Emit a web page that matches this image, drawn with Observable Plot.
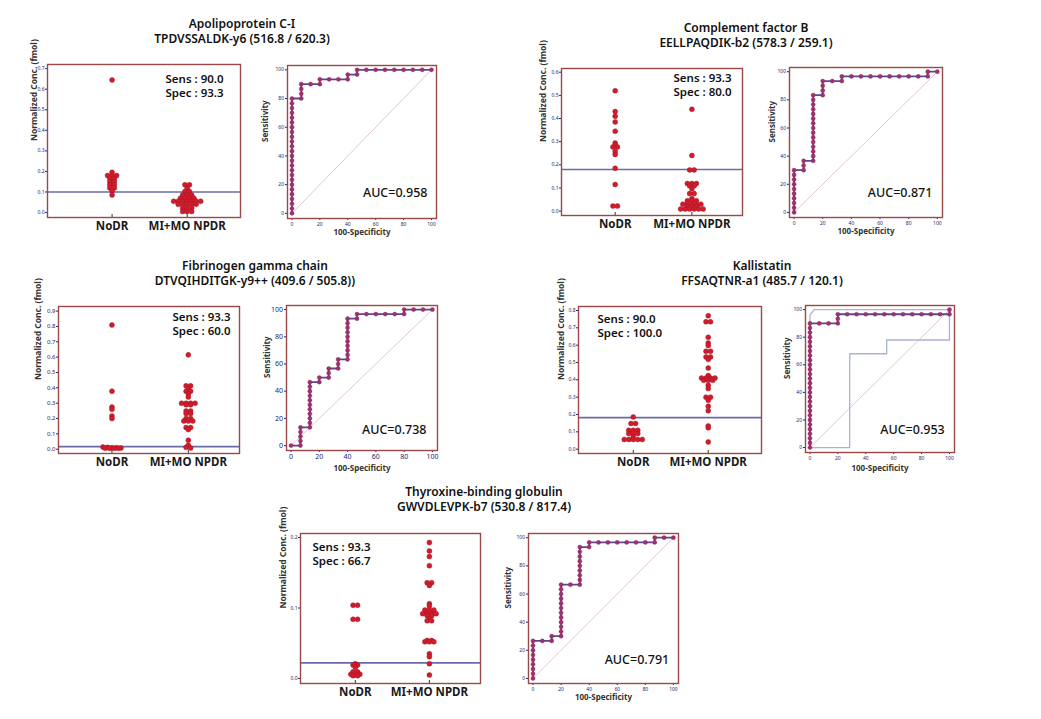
<!DOCTYPE html>
<html><head><meta charset="utf-8">
<script src="https://cdn.jsdelivr.net/npm/d3@7"></script>
<script src="https://cdn.jsdelivr.net/npm/@observablehq/plot@0.6"></script>
<style>
body{margin:0;background:#fff;}
#page{position:relative;width:1041px;height:719px;overflow:hidden;background:#fff;font-family:"Noto Sans",sans-serif;}
.title{position:absolute;width:400px;text-align:center;font-size:12px;font-weight:600;color:#111;line-height:15px;white-space:nowrap;}
.plotbox{position:absolute;}
.plotbox svg{overflow:visible;}
</style></head><body><div id="page"></div>
<script>
// ---------- data ----------
const groups = ["NoDR", "MI+MO NPDR"];
const rocTicks = [0, 20, 40, 60, 80, 100];
const diagonal = [[0, 0], [100, 100]];

// Apolipoprotein C-I
const titleA = ["Apolipoprotein C-I", "TPDVSSALDK-y6 (516.8 / 620.3)"];
const noDR_A = [0.645, 0.196, 0.18, 0.18, 0.18, 0.165, 0.165, 0.15, 0.15, 0.135, 0.135, 0.12, 0.12, 0.105, 0.085];
const npdr_A = [0.135, 0.135, 0.118, 0.102, 0.102, 0.086, 0.086, 0.086, 0.07, 0.07, 0.07, 0.07, 0.055, 0.055, 0.055, 0.055, 0.055, 0.055, 0.055, 0.04, 0.04, 0.04, 0.04, 0.04, 0.022, 0.022, 0.022, 0.005, 0.005, 0.005];
const cutoff_A = 0.1;
const sens_A = "Sens : 90.0", spec_A = "Spec : 93.3", auc_A = "AUC=0.958";
const yTicks_A = [0, 0.1, 0.2, 0.3, 0.4, 0.5, 0.6, 0.7];
const roc_A = "U24 R1 U3 R2 U1 R3 U1 R1 U1 R8"; // run-length steps: U = +1 true positive, R = +1 false positive

// Complement factor B
const titleB = ["Complement factor B", "EELLPAQDIK-b2 (578.3 / 259.1)"];
const noDR_B = [0.52, 0.43, 0.41, 0.385, 0.345, 0.294, 0.286, 0.277, 0.277, 0.258, 0.245, 0.185, 0.115, 0.022, 0.022];
const npdr_B = [0.44, 0.24, 0.178, 0.178, 0.119, 0.119, 0.119, 0.109, 0.109, 0.097, 0.076, 0.076, 0.054, 0.045, 0.045, 0.045, 0.03, 0.03, 0.03, 0.03, 0.03, 0.019, 0.019, 0.019, 0.009, 0.009, 0.009, 0.009, 0.009, 0.009];
const cutoff_B = 0.18;
const sens_B = "Sens : 93.3", spec_B = "Spec : 80.0", auc_B = "AUC=0.871";
const yTicks_B = [0, 0.1, 0.2, 0.3, 0.4, 0.5, 0.6];
const roc_B = "U9 R1 U2 R1 U14 R1 U3 R2 U1 R9 U1 R1";

// Fibrinogen gamma chain
const titleC = ["Fibrinogen gamma chain", "DTVQIHDITGK-y9++ (409.6 / 505.8))"];
const noDR_C = [0.81, 0.378, 0.275, 0.26, 0.217, 0.2, 0.014, 0.012, 0.01, 0.009, 0.008, 0.007, 0.006, 0.006, 0.006];
const npdr_C = [0.615, 0.413, 0.413, 0.395, 0.378, 0.378, 0.362, 0.34, 0.3, 0.3, 0.3, 0.3, 0.29, 0.29, 0.249, 0.249, 0.232, 0.232, 0.2, 0.2, 0.184, 0.184, 0.184, 0.141, 0.141, 0.128, 0.059, 0.026, 0.012, 0.008];
const cutoff_C = 0.017;
const sens_C = "Sens : 93.3", spec_C = "Spec : 60.0", auc_C = "AUC=0.738";
const yTicks_C = [0, 0.1, 0.2, 0.3, 0.4, 0.5, 0.6, 0.7, 0.8, 0.9];
const roc_C = "R1 U4 R1 U10 R1 U1 R1 U2 R1 U2 R1 U9 R1 U1 R5 U1 R3";

// Kallistatin
const titleD = ["Kallistatin", "FFSAQTNR-a1 (485.7 / 120.1)"];
const noDR_D = [0.186, 0.148, 0.148, 0.109, 0.109, 0.109, 0.09, 0.09, 0.09, 0.071, 0.056, 0.056, 0.056, 0.056, 0.056];
const npdr_D = [0.77, 0.735, 0.735, 0.645, 0.612, 0.598, 0.565, 0.565, 0.532, 0.532, 0.518, 0.468, 0.425, 0.41, 0.41, 0.41, 0.41, 0.397, 0.397, 0.397, 0.368, 0.35, 0.3, 0.3, 0.282, 0.248, 0.222, 0.134, 0.123, 0.042];
const cutoff_D = 0.182;
const sens_D = "Sens : 90.0", spec_D = "Spec : 100.0", auc_D = "AUC=0.953";
const yTicks_D = [0, 0.1, 0.2, 0.3, 0.4, 0.5, 0.6, 0.7, 0.8];
const roc_D = "U27 R3 U2 R12 U1";
const bandUpper_D = [[0, 0], [0, 96], [3, 100], [100, 100]];
const bandLower_D = [[0, 0], [28.5, 0], [28.5, 68], [55, 68], [55, 78], [100, 78], [100, 100]];

// Thyroxine-binding globulin
const titleE = ["Thyroxine-binding globulin", "GWVDLEVPK-b7 (530.8 / 817.4)"];
const noDR_E = [0.104, 0.104, 0.084, 0.084, 0.021, 0.019, 0.019, 0.016, 0.0095, 0.0095, 0.006, 0.006, 0.006, 0.004, 0.004];
const npdr_E = [0.193, 0.181, 0.173, 0.16, 0.136, 0.136, 0.132, 0.106, 0.103, 0.097, 0.097, 0.097, 0.092, 0.092, 0.092, 0.092, 0.089, 0.089, 0.085, 0.082, 0.082, 0.054, 0.054, 0.052, 0.052, 0.052, 0.035, 0.031, 0.021, 0.005];
const cutoff_E = 0.0222;
const sens_E = "Sens : 93.3", spec_E = "Spec : 66.7", auc_E = "AUC=0.791";
const yTicks_E = [0, 0.1, 0.2];
const roc_E = "U8 R2 U1 R1 U11 R2 U8 R1 U1 R7 U1 R2";

// ---------- layout & style ----------
const C = {
  frame: "#9a4848", dotFill: "#cf1d2d", dotStroke: "#a3121f", cut: "#6b6ba8",
  rocLine: "#5a4796", rocDot: "#a2306c", diag: "#e2c9cd", band: "#aab2d4", tick: "#24246a"
};
const rocXDomain = [-3.2, 103.6], rocYDomain = [-3.6, 103];
const SENS_FS = 11.5, SENS_GAP = 14.3;

const panels = [
  {title: titleA, noDR: noDR_A, npdr: npdr_A, cutoff: cutoff_A, sens: sens_A, spec: spec_A, yTicks: yTicks_A, auc: auc_A, roc: roc_A,
   L: {tx: 242, ty: 16, dot: {l: 47, t: 64, w: 193, h: 153, y: [-0.024, 0.72], x: [-0.86, 1.71], labDx: -13, tf: 5, sx: 118, sy: 8},
       roc: {l: 287, t: 65, w: 149, h: 153, tf: 5, ylDx: -22, xlDy: 16, aucX: 74, aucY: 14}}},
  {title: titleB, noDR: noDR_B, npdr: npdr_B, cutoff: cutoff_B, sens: sens_B, spec: spec_B, yTicks: yTicks_B, auc: auc_B, roc: roc_B,
   L: {tx: 746, ty: 20, dot: {l: 561, t: 68, w: 181, h: 147, y: [-0.019, 0.616], x: [-0.70, 1.66], labDx: -18, tf: 5, sx: 112, sy: 3},
       roc: {l: 789, t: 67, w: 153, h: 150, tf: 5, ylDx: -17, xlDy: 16, aucX: 74, aucY: 14}}},
  {title: titleC, noDR: noDR_C, npdr: npdr_C, cutoff: cutoff_C, sens: sens_C, spec: spec_C, yTicks: yTicks_C, auc: auc_C, roc: roc_C,
   L: {tx: 255, ty: 257.5, dot: {l: 58, t: 306, w: 181, h: 147, y: [-0.028, 0.93], x: [-0.70, 1.67], labDx: -20, tf: 6, sx: 114, sy: 4},
       roc: {l: 286, t: 305, w: 151, h: 145, tf: 7, ylDx: -19, xlDy: 20, aucX: 73, aucY: 11.5}}},
  {title: titleD, noDR: noDR_D, npdr: npdr_D, cutoff: cutoff_D, sens: sens_D, spec: spec_D, yTicks: yTicks_D, auc: auc_D, roc: roc_D,
   bands: [bandUpper_D, bandLower_D],
   L: {tx: 762, ty: 257.5, dot: {l: 578, t: 306, w: 183, h: 147, y: [-0.025, 0.823], x: [-0.73, 1.71], labDx: -17, tf: 5, sx: 19, sy: 6},
       roc: {l: 805, t: 305, w: 149, h: 147, tf: 5, ylDx: -18, xlDy: 18, aucX: 73.5, aucY: 12.7}}},
  {title: titleE, noDR: noDR_E, npdr: npdr_E, cutoff: cutoff_E, sens: sens_E, spec: spec_E, yTicks: yTicks_E, auc: auc_E, roc: roc_E,
   L: {tx: 484, ty: 484, dot: {l: 300, t: 533, w: 180, h: 150, y: [-0.0071, 0.2057], x: [-0.74, 1.69], labDx: -17, tf: 5, sx: 12, sy: 7},
       roc: {l: 528, t: 533, w: 150, h: 150, tf: 5, ylDx: -20, xlDy: 16, aucX: 74, aucY: 13}}}
];

// ---------- helpers ----------
function swarmOffsets(values, pxPerUnit, step, tol) {
  const order = d3.range(values.length).sort((a, b) => d3.descending(values[a], values[b]));
  const offs = new Array(values.length).fill(0);
  let row = [];
  const flush = () => { row.forEach((i, k) => offs[i] = (k - (row.length - 1) / 2) * step); row = []; };
  for (const i of order) {
    if (row.length && (values[row[0]] - values[i]) * pxPerUnit > tol) flush();
    row.push(i);
  }
  flush();
  return offs;
}
function decodeRoc(path, nNeg, nPos) {
  let f = 0, t = 0;
  const pts = [{fpr: 0, tpr: 0}];
  for (const tok of path.split(" ")) {
    const dir = tok[0], n = +tok.slice(1);
    for (let k = 0; k < n; k++) {
      if (dir === "U") t++; else f++;
      pts.push({fpr: f * 100 / nNeg, tpr: t * 100 / nPos});
    }
  }
  return pts;
}
function place(svg, left, top, w, h) {
  const box = document.createElement("div");
  box.className = "plotbox";
  box.style.left = left + "px"; box.style.top = top + "px";
  box.style.width = w + "px"; box.style.height = h + "px";
  box.appendChild(svg);
  document.getElementById("page").appendChild(box);
}
const baseStyle = (fs) => ({fontFamily: "'Noto Sans', sans-serif", fontSize: fs + "px", color: C.tick, background: "transparent", overflow: "visible"});

function dotPlot(p) {
  const L = p.L.dot, m = {top: 8, right: 8, bottom: 26, left: 32};
  const pxX = L.w / (L.x[1] - L.x[0]);
  const pxY = L.h / (L.y[1] - L.y[0]);
  const pts = [];
  [p.noDR, p.npdr].forEach((vals, gi) => {
    const offs = swarmOffsets(vals, pxY, 4.5, 1.0);
    vals.forEach((v, i) => pts.push({x: gi + offs[i] / pxX, y: v}));
  });
  const W = L.w + m.left + m.right, H = L.h + m.top + m.bottom;
  const svg = Plot.plot({
    width: W, height: H, marginTop: m.top, marginRight: m.right, marginBottom: m.bottom, marginLeft: m.left,
    x: {domain: L.x, axis: null},
    y: {domain: L.y, ticks: p.yTicks, tickFormat: d3.format(".1f"), tickSize: 2, tickPadding: 1, label: null},
    style: baseStyle(L.tf),
    marks: [
      Plot.ruleY([p.cutoff], {stroke: C.cut, strokeWidth: 1.6}),
      // small inner category ticks rising from the bottom of the frame
      Plot.ruleX(groups, {x: (d, i) => i, y1: L.y[0], y2: L.y[0] + 3 / pxY, stroke: "#333", strokeWidth: 1}),
      Plot.dot(pts, {x: "x", y: "y", r: 2.5, fill: C.dotFill, stroke: C.dotStroke, strokeWidth: 0.4}),
      Plot.frame({stroke: C.frame, strokeWidth: 1.4}),
      Plot.text(groups, {x: (d, i) => i, text: d => d, frameAnchor: "bottom", dy: 12, fontSize: 11.5, fontWeight: "bold", fill: "#1a1a1a"}),
      Plot.text(["Normalized Conc. (fmol)"], {text: d => d, frameAnchor: "left", rotate: -90, dx: L.labDx, fontSize: 8.5, fontWeight: "bold", fill: "#333"}),
      Plot.text([p.sens + "\n" + p.spec], {text: d => d, frameAnchor: "top-left", textAnchor: "start", lineAnchor: "top",
        lineHeight: SENS_GAP / SENS_FS, dx: L.sx, dy: L.sy, fontSize: SENS_FS, fontWeight: 600, fill: "#111"})
    ]
  });
  place(svg, L.l - m.left, L.t - m.top, W, H);
}

function rocPlot(p) {
  const L = p.L.roc, m = {top: 8, right: 8, bottom: 30, left: 32};
  const pts = decodeRoc(p.roc, p.noDR.length, p.npdr.length);
  const W = L.w + m.left + m.right, H = L.h + m.top + m.bottom;
  const bands = (p.bands || []).map(b => Plot.line(b, {x: d => d[0], y: d => d[1], stroke: C.band, strokeWidth: 1.3}));
  const svg = Plot.plot({
    width: W, height: H, marginTop: m.top, marginRight: m.right, marginBottom: m.bottom, marginLeft: m.left,
    x: {domain: rocXDomain, ticks: rocTicks, tickSize: 2, tickPadding: 1.5, label: null},
    y: {domain: rocYDomain, ticks: rocTicks, tickSize: 2, tickPadding: 1.5, label: null},
    style: baseStyle(L.tf),
    marks: [
      Plot.line(diagonal, {x: d => d[0], y: d => d[1], stroke: C.diag, strokeWidth: 1}),
      ...bands,
      Plot.line(pts, {x: "fpr", y: "tpr", stroke: C.rocLine, strokeWidth: 1.8}),
      Plot.dot(pts, {x: "fpr", y: "tpr", r: 2.1, fill: C.rocDot, stroke: "#7a2352", strokeWidth: 0.3}),
      Plot.frame({stroke: C.frame, strokeWidth: 1.4}),
      Plot.text([{x: L.aucX, y: L.aucY, t: p.auc}], {x: "x", y: "y", text: "t", fontSize: 12.5, fontWeight: 500, fill: "#111"}),
      Plot.text(["Sensitivity"], {text: d => d, frameAnchor: "left", rotate: -90, dx: L.ylDx, fontSize: 8, fontWeight: "bold", fill: "#333"}),
      Plot.text(["100-Specificity"], {text: d => d, frameAnchor: "bottom", dy: L.xlDy, fontSize: 8, fontWeight: "bold", fill: "#333"})
    ]
  });
  place(svg, L.l - m.left, L.t - m.top, W, H);
}

function addTitle(p) {
  const d = document.createElement("div");
  d.className = "title";
  d.style.left = (p.L.tx - 200) + "px";
  d.style.top = p.L.ty + "px";
  d.innerHTML = p.title.map(s => `<div>${s}</div>`).join("");
  document.getElementById("page").appendChild(d);
}

for (const p of panels) { addTitle(p); dotPlot(p); rocPlot(p); }
</script>
</body></html>
